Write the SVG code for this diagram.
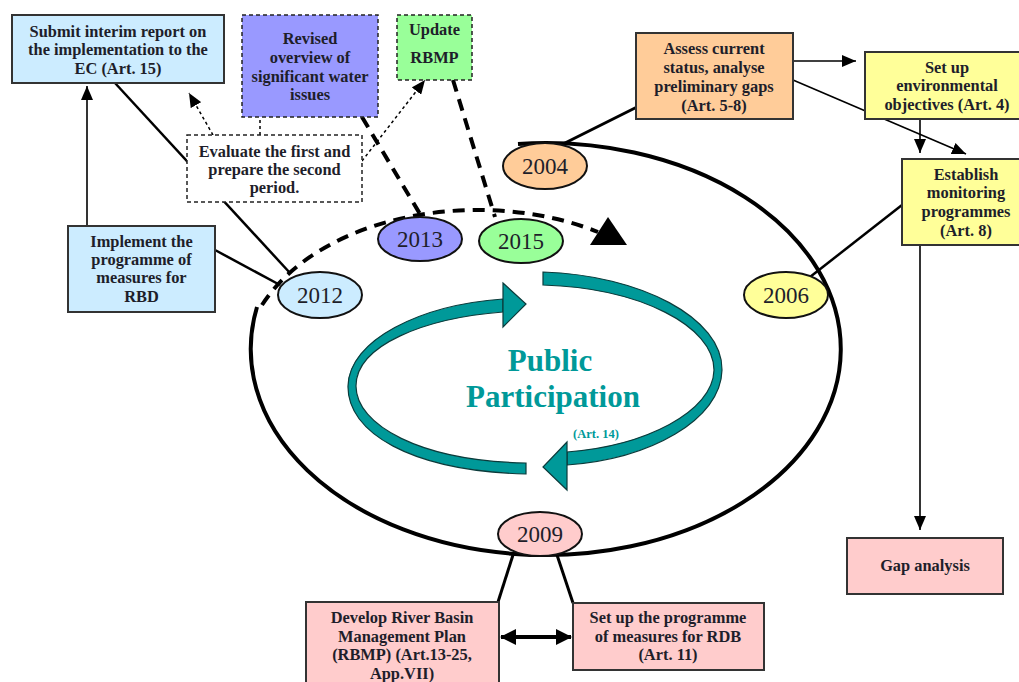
<svg xmlns="http://www.w3.org/2000/svg" width="1019" height="682" viewBox="0 0 1019 682">
<style>
.box{stroke:#333;stroke-width:2}
.dbox{stroke:#222;stroke-width:1.5;stroke-dasharray:4 3}
.t{font-family:"Liberation Serif",serif;font-weight:bold;font-size:16.4px;fill:#1e1e2a;text-anchor:middle}
.yr{font-family:"Liberation Serif",serif;font-size:23px;fill:#1e1e2a;text-anchor:middle}
.yel{stroke:#111;stroke-width:2}
.ln{fill:none;stroke:#000;stroke-width:2.5}
.thin{fill:none;stroke:#000;stroke-width:1.6}
.tdash{fill:none;stroke:#000;stroke-width:1.5;stroke-dasharray:3 3}
.kdash{fill:none;stroke:#000;stroke-width:4;stroke-dasharray:12 8}
.band{fill:#009999;stroke:#0b3b3b;stroke-width:1.2}
.pp{font-family:"Liberation Serif",serif;font-weight:bold;fill:#009999;text-anchor:middle}
</style>
<defs>
<marker id="arr" markerUnits="userSpaceOnUse" markerWidth="14" markerHeight="12" refX="14" refY="6" orient="auto"><path d="M0,0 L14,6 L0,12 z" fill="#000"/></marker>
<marker id="arrL" markerUnits="userSpaceOnUse" markerWidth="16" markerHeight="16" refX="15" refY="8" orient="auto-start-reverse"><path d="M0,0 L16,8 L0,16 z" fill="#000"/></marker>
</defs>
<rect width="1019" height="682" fill="#fff"/>
<g id="connectors">
<path class="ln" style="stroke-width:4" d="M518 144 A295 206 0 1 1 257 307"/>
<path class="kdash" d="M262 305 C320 215 480 185 598 232"/>
<polygon points="608,217 627,245 590,245" fill="#000"/>
<line class="kdash" x1="362" y1="117" x2="420" y2="214"/>
<line class="kdash" x1="453" y1="80" x2="495" y2="217"/>
<line class="ln" x1="115" y1="83" x2="290" y2="273"/>
<line class="ln" x1="215" y1="250" x2="280" y2="285"/>
<line class="thin" x1="87" y1="226" x2="87" y2="86" marker-end="url(#arr)"/>
<line class="tdash" x1="213" y1="135" x2="189" y2="93" marker-end="url(#arr)"/>
<line class="tdash" x1="260" y1="135" x2="260" y2="88" marker-end="url(#arr)"/>
<line class="tdash" x1="362" y1="161" x2="425" y2="80" marker-end="url(#arr)"/>
<line class="ln" style="stroke-width:3" x1="637" y1="107" x2="563" y2="144"/>
<line class="thin" x1="793" y1="61" x2="856" y2="61" marker-end="url(#arr)"/>
<line class="thin" x1="793" y1="80" x2="966" y2="154" marker-end="url(#arr)"/>
<line class="thin" x1="920" y1="119" x2="920" y2="153" marker-end="url(#arr)"/>
<line class="ln" x1="902" y1="205" x2="810" y2="277"/>
<line class="thin" x1="920" y1="245" x2="920" y2="530" marker-end="url(#arr)"/>
<line class="ln" style="stroke-width:3" x1="513" y1="555" x2="498" y2="602"/>
<line class="ln" style="stroke-width:3" x1="557" y1="555" x2="573" y2="603"/>
<line class="ln" style="stroke-width:4" x1="501" y1="637" x2="571" y2="637" marker-start="url(#arrL)" marker-end="url(#arrL)"/>
</g>
<g id="public-participation">
<path class="band" d="M526 474 C410 471 347 432 348 386 C349 340 420 305 503 299 L503 312 C425 318 356 345 356 386 C356 425 420 461 526 463 Z"/>
<polygon class="band" points="503,283 526,304 503,327"/>
<path class="band" d="M543 272 C640 275 723 318 722 370 C721 420 650 459 567 465 L567 452 C645 446 713 412 714 370 C714 326 640 288 543 285 Z"/>
<polygon class="band" points="567,442 543,467 567,490"/>
<text class="pp" x="550" y="371" font-size="31">Public</text>
<text class="pp" x="553" y="407" font-size="31">Participation</text>
<text class="pp" x="596" y="438" font-size="12.5">(Art. 14)</text>
</g>
<g id="n-submit"><rect class="box" x="12" y="15" width="212" height="68" fill="#CCECFF"/>
<text class="t" x="118" y="37">Submit interim report on</text><text class="t" x="118" y="55">the implementation to the</text><text class="t" x="118" y="74">EC (Art. 15)</text></g>
<g id="n-revised"><rect class="dbox" x="242" y="15" width="136" height="102" fill="#9999FF"/>
<text class="t" x="310" y="44">Revised</text><text class="t" x="310" y="63">overview of</text><text class="t" x="310" y="82">significant water</text><text class="t" x="310" y="100">issues</text></g>
<g id="n-update"><rect class="dbox" x="397" y="15" width="75" height="65" fill="#99FF99"/>
<text class="t" x="434.5" y="35">Update</text><text class="t" x="434.5" y="63">RBMP</text></g>
<g id="n-evaluate"><rect class="dbox" x="187" y="135" width="175" height="67" fill="#fff"/>
<text class="t" x="274.5" y="157">Evaluate the first and</text><text class="t" x="274.5" y="175">prepare the second</text><text class="t" x="274.5" y="193">period.</text></g>
<g id="n-implement"><rect class="box" x="68" y="226" width="147" height="86" fill="#CCECFF"/>
<text class="t" x="141.5" y="247">Implement the</text><text class="t" x="141.5" y="265">programme of</text><text class="t" x="141.5" y="283">measures for</text><text class="t" x="141.5" y="302">RBD</text></g>
<g id="n-assess"><rect class="box" x="636" y="33" width="157" height="86" fill="#FFCC99"/>
<text class="t" x="714" y="54">Assess current</text><text class="t" x="714" y="73">status, analyse</text><text class="t" x="714" y="92">preliminary gaps</text><text class="t" x="714" y="111">(Art. 5-8)</text></g>
<g id="n-envobj"><rect class="box" x="865" y="52" width="165" height="67" fill="#FFFF99"/>
<text class="t" x="947" y="73">Set up</text><text class="t" x="947" y="91">environmental</text><text class="t" x="947" y="110">objectives (Art. 4)</text></g>
<g id="n-monitor"><rect class="box" x="902" y="159" width="128" height="86" fill="#FFFF99"/>
<text class="t" x="966" y="180">Establish</text><text class="t" x="966" y="198">monitoring</text><text class="t" x="966" y="217">programmes</text><text class="t" x="966" y="236">(Art. 8)</text></g>
<g id="n-gap"><rect class="box" x="847" y="538" width="156" height="56" fill="#FFCCCC"/>
<text class="t" x="925" y="571">Gap analysis</text></g>
<g id="n-develop"><rect class="box" x="306" y="602" width="193" height="92" fill="#FFCCCC"/>
<text class="t" x="402" y="623">Develop River Basin</text><text class="t" x="402" y="642">Management Plan</text><text class="t" x="402" y="660">(RBMP)  (Art.13-25,</text><text class="t" x="402" y="679">App.VII)</text></g>
<g id="n-measures"><rect class="box" x="573" y="603" width="191" height="67" fill="#FFCCCC"/>
<text class="t" x="668" y="623">Set up the programme</text><text class="t" x="668" y="642">of measures for RDB</text><text class="t" x="668" y="660">(Art. 11)</text></g>
<g id="y2004"><ellipse class="yel" cx="545" cy="166" rx="42" ry="23" fill="#FFCC99"/><text class="yr" x="545" y="174">2004</text></g>
<g id="y2006"><ellipse class="yel" cx="786" cy="295" rx="42" ry="23" fill="#FFFF99"/><text class="yr" x="786" y="303">2006</text></g>
<g id="y2009"><ellipse class="yel" cx="540" cy="534" rx="42" ry="22" fill="#FFCCCC"/><text class="yr" x="540" y="542">2009</text></g>
<g id="y2012"><ellipse class="yel" cx="320" cy="295" rx="42" ry="23" fill="#CCECFF"/><text class="yr" x="320" y="303">2012</text></g>
<g id="y2013"><ellipse class="yel" cx="420" cy="239" rx="42" ry="22" fill="#9999FF"/><text class="yr" x="420" y="247">2013</text></g>
<g id="y2015"><ellipse class="yel" cx="521" cy="241" rx="42" ry="22" fill="#99FF99"/><text class="yr" x="521" y="249">2015</text></g>
</svg>
